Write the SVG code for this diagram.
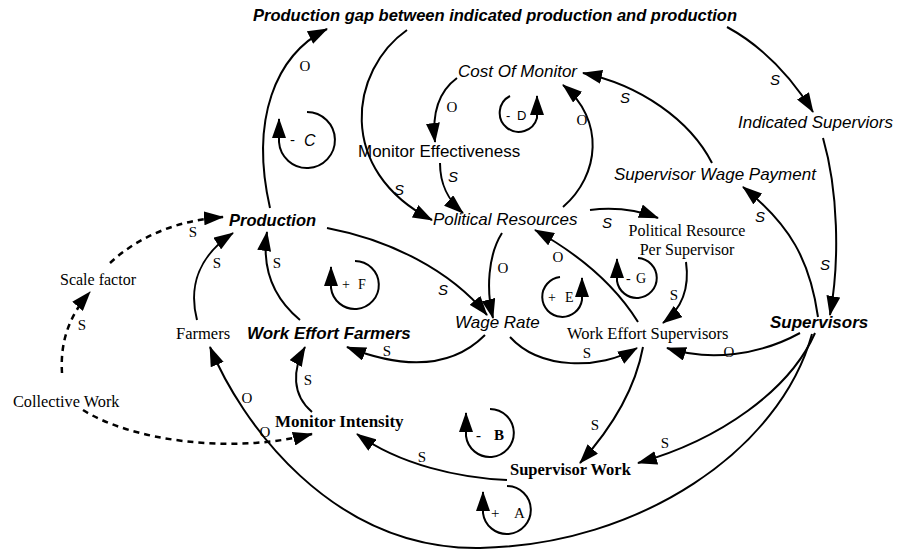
<svg xmlns="http://www.w3.org/2000/svg" width="898" height="550" viewBox="0 0 898 550">
<style>
.sn{font-family:"Liberation Sans",Arial,sans-serif;font-size:17px;fill:#000}
.it{font-style:italic}
.bd{font-weight:bold}
.sf{font-family:"Liberation Serif","Times New Roman",serif;font-size:16.5px;fill:#000}
.c{fill:none;stroke:#000;stroke-width:2}
.d{fill:none;stroke:#000;stroke-width:2.5;stroke-dasharray:6 5}
.ls{font-family:"Liberation Sans",Arial,sans-serif;font-style:italic;font-size:15px;text-anchor:middle}
.lr{font-family:"Liberation Serif","Times New Roman",serif;font-size:15px;text-anchor:middle}
</style>
<defs>
<marker id="ah" markerUnits="userSpaceOnUse" markerWidth="20" markerHeight="14" viewBox="0 0 20 14" refX="19" refY="7" orient="auto">
<path d="M0,0 L20,7 L0,14 z" fill="#000"/>
</marker>
</defs>
<rect width="898" height="550" fill="#fff"/>

<g id="connectors">
<path class="c" marker-end="url(#ah)" d="M270,208 C250,120 275,55 327,29"/>
<path class="c" marker-end="url(#ah)" d="M407,30 C350,70 335,170 432,220"/>
<path class="c" marker-end="url(#ah)" d="M457,78 C438,92 432,115 435,142"/>
<path class="c" marker-end="url(#ah)" d="M440,163 C440,185 448,200 463,213"/>
<path class="c" marker-end="url(#ah)" d="M563,207 C600,175 605,120 563,85"/>
<path class="c" marker-end="url(#ah)" d="M712,163 C690,120 640,85 583,73"/>
<path class="c" marker-end="url(#ah)" d="M727,27 C760,45 790,75 813,112"/>
<path class="c" marker-end="url(#ah)" d="M823,138 C838,190 840,260 830,315"/>
<path class="c" marker-end="url(#ah)" d="M818,317 C810,260 790,225 743,187"/>
<path class="c" marker-end="url(#ah)" d="M590,210 C615,207 640,211 658,218"/>
<path class="c" marker-end="url(#ah)" d="M502,233 C488,255 486,290 493,318"/>
<path class="c" marker-end="url(#ah)" d="M327,228 C390,240 450,270 487,315"/>
<path class="c" marker-end="url(#ah)" d="M485,335 C450,370 400,368 347,347"/>
<path class="c" marker-end="url(#ah)" d="M510,337 C540,370 600,370 637,348"/>
<path class="c" marker-end="url(#ah)" d="M638,322 C615,285 580,255 535,230"/>
<path class="c" marker-end="url(#ah)" d="M686,262 C690,290 680,310 663,323"/>
<path class="c" marker-end="url(#ah)" d="M800,333 C760,355 710,362 667,348"/>
<path class="c" marker-end="url(#ah)" d="M643,347 C635,390 610,430 580,463"/>
<path class="c" marker-end="url(#ah)" d="M815,333 C790,390 720,440 638,463"/>
<path class="c" marker-end="url(#ah)" d="M812,334 C780,450 640,545 480,548 C330,550 240,420 210,347"/>
<path class="c" marker-end="url(#ah)" d="M507,480 C460,478 400,465 357,434"/>
<path class="c" marker-end="url(#ah)" d="M312,412 C292,395 292,370 305,347"/>
<path class="d" marker-end="url(#ah)" d="M83,410 C130,440 230,455 312,434"/>
<path class="d" marker-end="url(#ah)" d="M62,373 C60,340 70,315 90,292"/>
<path class="d" marker-end="url(#ah)" d="M110,263 C140,235 180,220 223,217"/>
<path class="c" marker-end="url(#ah)" d="M197,320 C188,285 200,255 233,233"/>
<path class="c" marker-end="url(#ah)" d="M300,320 C270,295 262,265 267,232"/>

<text class="lr" x="305" y="71">O</text>
<text class="ls" x="399" y="195">S</text>
<text class="lr" x="452" y="112">O</text>
<text class="ls" x="453" y="182">S</text>
<text class="lr" x="582" y="125">O</text>
<text class="ls" x="625" y="103">S</text>
<text class="ls" x="775" y="85">S</text>
<text class="ls" x="825" y="270">S</text>
<text class="ls" x="760" y="222">S</text>
<text class="ls" x="607" y="228">S</text>
<text class="lr" x="503" y="273">O</text>
<text class="ls" x="443" y="295">S</text>
<text class="lr" x="387" y="356">S</text>
<text class="lr" x="587" y="358">S</text>
<text class="lr" x="558" y="262">O</text>
<text class="lr" x="674" y="300">S</text>
<text class="lr" x="729" y="357">O</text>
<text class="lr" x="595" y="430">S</text>
<text class="lr" x="665" y="448">S</text>
<text class="lr" x="247" y="403">O</text>
<text class="lr" x="422" y="462">S</text>
<text class="lr" x="308" y="385">S</text>
<text class="lr" x="265" y="437">O</text>
<text class="lr" x="82" y="330">S</text>
<text class="lr" x="193" y="237">S</text>
<text class="lr" x="217" y="268">S</text>
<text class="lr" x="277" y="268">S</text>
</g>

<g id="loops">
<g id="loop-C">
<path class="c" marker-end="url(#ah)" d="M307,112 A28,28 0 1 1 279,142 L279,119"/>
<text class="sn" x="290" y="145" style="font-size:15px">-</text>
<text class="sn it" x="304" y="146" style="font-size:16px">C</text>
</g>
<g id="loop-D">
<path class="c" marker-end="url(#ah)" d="M510,96 A19,19 0 1 0 537,118 L537,96"/>
<text class="sn" x="506" y="120" style="font-size:13px">-</text>
<text class="sn" x="517" y="120" style="font-size:13px">D</text>
</g>
<g id="loop-E">
<path class="c" marker-end="url(#ah)" d="M560,277 A20,20 0 1 0 582,300 L582,278"/>
<text class="sf" x="548" y="302" style="font-size:14px">+</text>
<text class="sf" x="565" y="302" style="font-size:14px">E</text>
</g>
<g id="loop-G">
<path class="c" marker-end="url(#ah)" d="M638,258 A20,20 0 1 1 617,281 L617,259"/>
<text class="sf" x="626" y="283" style="font-size:14px">-</text>
<text class="sf" x="636" y="283" style="font-size:14px">G</text>
</g>
<g id="loop-F">
<path class="c" marker-end="url(#ah)" d="M355,261 A24,24 0 1 1 331,288 L331,267"/>
<text class="sf" x="342" y="289" style="font-size:14px">+</text>
<text class="sf" x="358" y="289" style="font-size:14px">F</text>
</g>
<g id="loop-B">
<path class="c" marker-end="url(#ah)" d="M490,409 A24,24 0 1 1 466,436 L466,413"/>
<text class="sf bd" x="476" y="440" style="font-size:15px">-</text>
<text class="sf bd" x="494" y="440" style="font-size:15px">B</text>
</g>
<g id="loop-A">
<path class="c" marker-end="url(#ah)" d="M507,486 A24,24 0 1 1 483,513 L483,492"/>
<text class="sf" x="491" y="518" style="font-size:15px">+</text>
<text class="sf" x="514" y="518" style="font-size:15px">A</text>
</g>
</g>

<g id="node-gap"><text class="sn it bd" x="253" y="21" style="font-size:16.5px">Production gap between indicated production and production</text></g>
<g id="node-cost"><text class="sn it" x="458" y="77">Cost Of Monitor</text></g>
<g id="node-effect"><text class="sn" x="358" y="157">Monitor Effectiveness</text></g>
<g id="node-indicated"><text class="sn it" x="738" y="128">Indicated Superviors</text></g>
<g id="node-swp"><text class="sn it" x="614" y="180">Supervisor Wage Payment</text></g>
<g id="node-political"><text class="sn it" x="433" y="225">Political Resources</text></g>
<g id="node-prps"><text class="sf" x="687" y="236" text-anchor="middle" style="font-size:16px">Political Resource</text><text class="sf" x="687" y="255" text-anchor="middle" style="font-size:16px">Per Supervisor</text></g>
<g id="node-production"><text class="sn it bd" x="229" y="226" style="font-size:16.5px">Production</text></g>
<g id="node-scale"><text class="sf" x="60" y="285" style="font-size:16px">Scale factor</text></g>
<g id="node-farmers"><text class="sf" x="176" y="339">Farmers</text></g>
<g id="node-wef"><text class="sn it bd" x="247" y="339">Work Effort Farmers</text></g>
<g id="node-wage"><text class="sn it" x="455" y="328">Wage Rate</text></g>
<g id="node-wes"><text class="sf" x="567" y="339">Work Effort Supervisors</text></g>
<g id="node-supervisors"><text class="sn it bd" x="770" y="328">Supervisors</text></g>
<g id="node-collective"><text class="sf" x="13" y="407" style="font-size:16.3px">Collective Work</text></g>
<g id="node-intensity"><text class="sf bd" x="275" y="427" style="font-size:17px">Monitor Intensity</text></g>
<g id="node-swork"><text class="sf bd" x="510" y="475">Supervisor Work</text></g>
</svg>
